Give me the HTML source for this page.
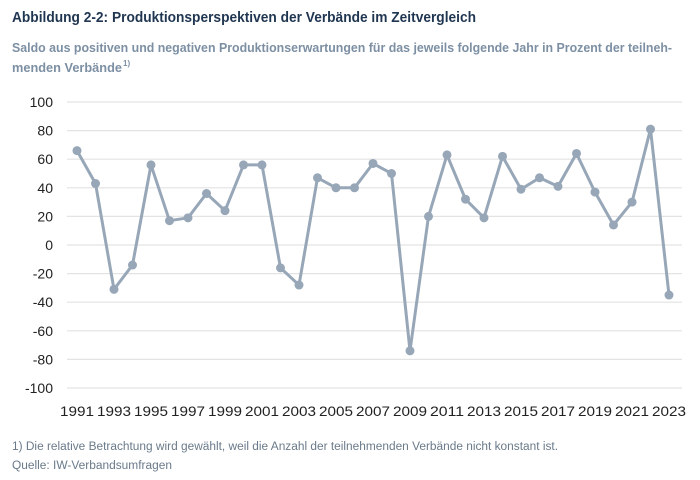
<!DOCTYPE html>
<html><head><meta charset="utf-8"><style>body{margin:0;background:#fff}svg{display:block}</style></head><body>
<svg width="700" height="480" xmlns="http://www.w3.org/2000/svg" font-family="Liberation Sans, sans-serif">
<text x="12" y="22" font-size="14.5" font-weight="bold" fill="#1f3550" textLength="464" lengthAdjust="spacingAndGlyphs">Abbildung 2-2: Produktionsperspektiven der Verbände im Zeitvergleich</text>
<text x="12" y="52" font-size="12.5" font-weight="bold" fill="#7c8fa3" textLength="660" lengthAdjust="spacingAndGlyphs">Saldo aus positiven und negativen Produktionserwartungen für das jeweils folgende Jahr in Prozent der teilneh-</text>
<text x="12" y="72" font-size="12.5" font-weight="bold" fill="#7c8fa3" textLength="110" lengthAdjust="spacingAndGlyphs">menden Verbände</text>
<text x="123" y="66" font-size="8" font-weight="bold" fill="#7c8fa3">1)</text>
<g id="grid" stroke="#e3e3e3" stroke-width="1.2"></g>
<g id="yl" font-size="14" fill="#222" text-anchor="end"></g>
<g id="xl" font-size="14" fill="#222" text-anchor="middle"></g>
<polyline id="ln" fill="none" stroke="#97a7b8" stroke-width="3" stroke-linejoin="round"/>
<g id="pts" fill="#97a7b8"></g>
<text x="12" y="450" font-size="11.5" fill="#6a7a8a" textLength="546" lengthAdjust="spacingAndGlyphs">1) Die relative Betrachtung wird gewählt, weil die Anzahl der teilnehmenden Verbände nicht konstant ist.</text>
<text x="12" y="469" font-size="11.5" fill="#6a7a8a" textLength="160" lengthAdjust="spacingAndGlyphs">Quelle: IW-Verbandsumfragen</text>
</svg>
<script>
const ns="http://www.w3.org/2000/svg";
const Y=v=>245-v*1.43, X=i=>77+i*18.5;
const g=document.getElementById('grid'),yl=document.getElementById('yl'),xl=document.getElementById('xl');
for(let v=-100;v<=100;v+=20){let l=document.createElementNS(ns,'line');l.setAttribute('x1',67);l.setAttribute('x2',682);l.setAttribute('y1',Y(v));l.setAttribute('y2',Y(v));g.appendChild(l);
let t=document.createElementNS(ns,'text');t.setAttribute('x',53);t.setAttribute('y',Y(v)+5);t.textContent=v;yl.appendChild(t);}
for(let y=1991;y<=2023;y+=2){let t=document.createElementNS(ns,'text');t.setAttribute('x',X(y-1991));t.setAttribute('y',416);t.setAttribute('textLength',34);t.setAttribute('lengthAdjust','spacingAndGlyphs');t.textContent=y;xl.appendChild(t);}
const d=[66,43,-31,-14,56,17,19,36,24,56,56,-16,-28,47,40,40,57,50,-74,20,63,32,19,62,39,47,41,64,37,14,30,81,-35];
document.getElementById('ln').setAttribute('points',d.map((v,i)=>X(i)+','+Y(v)).join(' '));
const p=document.getElementById('pts');
d.forEach((v,i)=>{let c=document.createElementNS(ns,'circle');c.setAttribute('cx',X(i));c.setAttribute('cy',Y(v));c.setAttribute('r',4.5);p.appendChild(c);});
</script>
</body></html>
